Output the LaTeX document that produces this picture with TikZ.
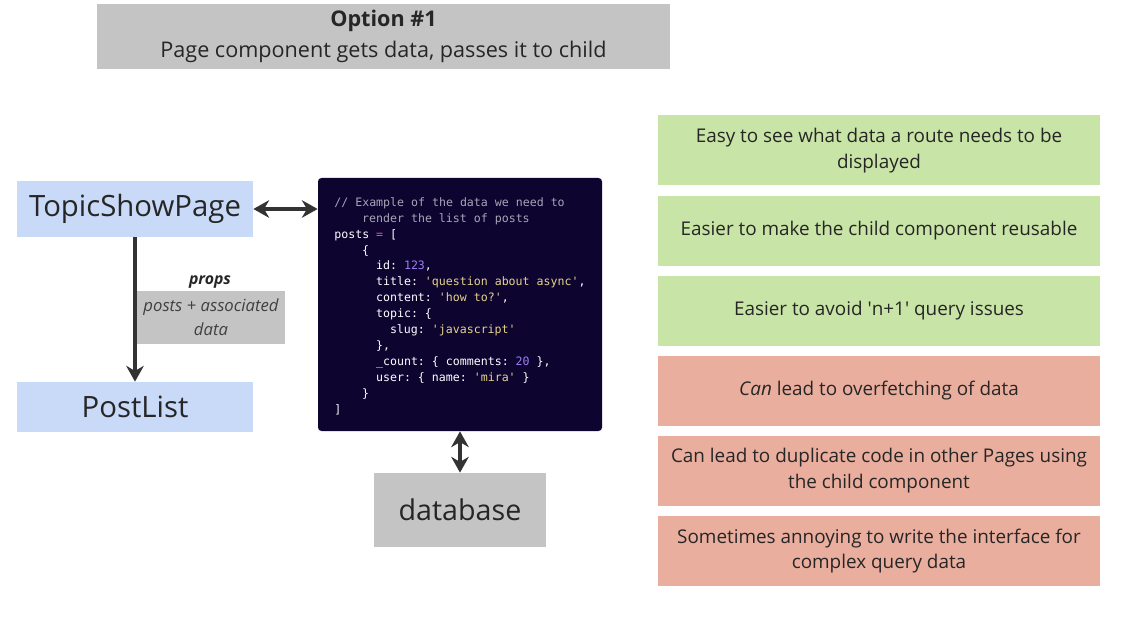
\documentclass[tikz,border=0pt]{standalone}
\usepackage{fontspec}
\setmainfont{Open Sans}
\setmonofont{DejaVu Sans Mono}
\usetikzlibrary{arrows.meta}
\definecolor{boxgray}{HTML}{C4C4C4}
\definecolor{compblue}{HTML}{C9DAF8}
\definecolor{progreen}{HTML}{C9E4A7}
\definecolor{conred}{HTML}{EAAE9E}
\definecolor{codebg}{HTML}{0D0430}
\definecolor{codecomment}{HTML}{A6A6B8}
\definecolor{codenum}{HTML}{9B7CF2}
\definecolor{codestr}{HTML}{E6D38A}
\definecolor{codeop}{HTML}{F0507A}
\definecolor{arrowdark}{HTML}{333333}
\newcommand{\ind}[1]{\hspace*{#1}}
\newcommand{\cstr}[1]{\textcolor{codestr}{#1}}
\newcommand{\cnum}[1]{\textcolor{codenum}{#1}}
\tikzset{
  comp/.style={fill=compblue, minimum width=236*0.02cm, font=\fontsize{16.7}{19}\selectfont, text=black!85},
  item/.style={minimum width=442*0.02cm, minimum height=70*0.02cm, inner xsep=2pt, text width=8.62cm, align=flush center, font=\fontsize{10.75}{14.7}\selectfont, text=black!85},
  pro/.style={item, fill=progreen},
  con/.style={item, fill=conred},
  link/.style={draw=arrowdark, line width=1.8pt, >={Stealth[length=9pt,width=10pt]}}
}
\begin{document}
\begin{tikzpicture}[x=0.02cm, y=-0.02cm]
\useasboundingbox (0,0) rectangle (1136,618);

% heading
\node[fill=boxgray, minimum width=573*0.02cm, minimum height=65*0.02cm, align=center, text=black!85, font=\fontsize{12.3}{17.6}\selectfont] (title) at (383.5,36.5)
  {\textbf{Option \#1}\\ Page component gets data, passes it to child};

% components
\node[comp, minimum height=56*0.02cm] (page) at (135,209) {TopicShowPage};
\node[comp, minimum height=50*0.02cm] (list) at (135,407) {PostList};

% code sample
\node[fill=codebg, rounded corners=2pt, minimum width=284*0.02cm, minimum height=253*0.02cm] (code) at (460,304.5) {};
\node[anchor=north west, align=left, inner sep=0pt, text=white, font=\ttfamily\fontsize{6.6}{9.07}\selectfont] (sample) at (334,197)
  {\textcolor{codecomment}{// Example of the data we need to}\\
   \ind{2.4em}\textcolor{codecomment}{render the list of posts}\\
   posts \textcolor{codeop}{=} [\\
   \ind{2.4em}\{\\
   \ind{3.6em}id: \cnum{123},\\
   \ind{3.6em}title: \cstr{'question about async'},\\
   \ind{3.6em}content: \cstr{'how to?'},\\
   \ind{3.6em}topic: \{\\
   \ind{4.8em}slug: \cstr{'javascript'}\\
   \ind{3.6em}\},\\
   \ind{3.6em}\_count: \{ comments: \cnum{20} \},\\
   \ind{3.6em}user: \{ name: \cstr{'mira'} \}\\
   \ind{2.4em}\}\\
   ]};

\node[fill=boxgray, minimum width=172*0.02cm, minimum height=74*0.02cm, font=\fontsize{16.3}{19}\selectfont, text=black!85] (db) at (460,510) {database};

% props label
\node[font=\bfseries\itshape\fontsize{9}{10}\selectfont, text=black!85] (propsname) at (210,282) {props};
\node[fill=boxgray, minimum width=148*0.02cm, minimum height=53*0.02cm, align=center, font=\itshape\fontsize{9.5}{13.6}\selectfont, text=black!75] (props) at (211,317.5) {posts + associated\\data};

% connectors
\draw[link, ->] (page) -- (list);
\draw[link, <->] (page.east) -- (code.west |- page.east);
\draw[link, <->] (code) -- (db);

% pros and cons
\node[pro] (p1) at (879,150.5) {Easy to see what data a route needs to be displayed};
\node[pro] (p2) at (879,231) {Easier to make the child component reusable};
\node[pro] (p3) at (879,311) {Easier to avoid \textquotesingle n+1\textquotesingle\ query issues};
\node[con] (c1) at (879,391) {\textit{Can} lead to overfetching of data};
\node[con] (c2) at (879,471) {Can lead to duplicate code in other Pages using the child component};
\node[con] (c3) at (879,551) {Sometimes annoying to write the interface for complex query data};
\end{tikzpicture}
\end{document}
